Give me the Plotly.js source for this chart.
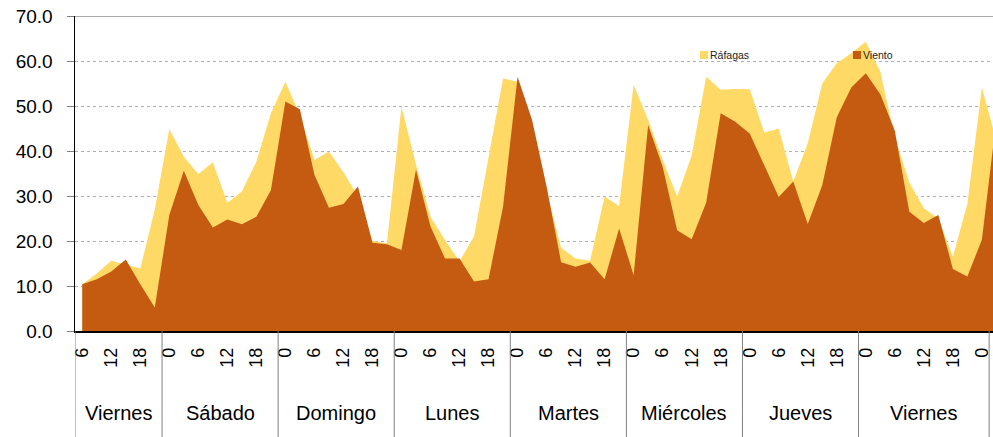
<!DOCTYPE html>
<html>
<head>
<meta charset="utf-8">
<script src="https://cdn.plot.ly/plotly-3.0.1.min.js"></script>
<style>
  html, body { margin: 0; padding: 0; background: #fff; }
  #chart { width: 993px; height: 437px; }
</style>
</head>
<body>
<div id="chart"></div>
<script>
// Categories: every 3 hours, starting Friday 06:00
var hourLabels = ["6","9","12","15","18","21",
  "0","3","6","9","12","15","18","21",
  "0","3","6","9","12","15","18","21",
  "0","3","6","9","12","15","18","21",
  "0","3","6","9","12","15","18","21",
  "0","3","6","9","12","15","18","21",
  "0","3","6","9","12","15","18","21",
  "0","3","6","9","12","15","18","21",
  "0","3"];
var dayNames = ["Viernes","Sábado","Domingo","Lunes","Martes","Miércoles","Jueves","Viernes"];
var dayCounts = [6, 8, 8, 8, 8, 8, 8, 9];
var shownHours = ["0","6","12","18"];

var rafagas = [10.4, 12.8, 15.6, 14.7, 13.9, 27.0, 44.9, 38.7, 34.9, 37.5,
  28.5, 31.0, 37.6, 48.4, 55.4, 48.0, 38.0, 39.9, 35.3, 30.0,
  20.0, 19.5, 49.9, 37.0, 25.4, 20.2, 15.5, 21.0, 39.0, 56.1,
  55.4, 46.0, 31.0, 18.5, 16.1, 15.6, 29.9, 27.8, 54.7, 46.9,
  38.0, 29.9, 39.0, 56.5, 53.6, 53.8, 53.7, 44.1, 45.0, 33.2,
  41.7, 55.0, 59.5, 61.7, 64.3, 57.6, 43.0, 33.0, 27.3, 25.0,
  16.5, 28.3, 54.1, 42.3];
var viento = [10.4, 11.5, 13.2, 15.9, 10.4, 5.2, 25.8, 35.6, 28.0, 23.0,
  24.8, 23.7, 25.4, 31.3, 51.0, 49.3, 34.7, 27.4, 28.2, 32.1,
  19.6, 19.3, 18.0, 35.9, 23.2, 16.1, 16.1, 11.0, 11.5, 27.6,
  56.5, 46.9, 32.1, 15.3, 14.3, 15.2, 11.5, 22.8, 12.4, 45.8,
  36.5, 22.4, 20.4, 28.5, 48.4, 46.5, 43.9, 37.0, 29.8, 33.2,
  23.8, 32.4, 47.5, 54.1, 57.3, 52.6, 44.5, 26.5, 24.0, 25.8,
  13.8, 12.1, 20.3, 47.0];

var FONT = "Liberation Sans, Arial, sans-serif";
var idx = hourLabels.map(function (_, i) { return i; });

var tickvals = [], ticktext = [];
var nCat = dayCounts.reduce(function (a, b) { return a + b; }, 0);
for (var i = 0; i < nCat; i++) {
  if (shownHours.indexOf(hourLabels[i]) >= 0) { tickvals.push(i); ticktext.push(hourLabels[i]); }
}

var plotTop = 16, plotBottom = 331, H = 437;
var plotH = plotBottom - plotTop;
var belowFrac = (H - plotBottom) / plotH;

var shapes = [], annotations = [];
var edge = -0.5;
shapes.push({type: "line", xref: "x", yref: "paper", x0: edge, x1: edge, y0: -belowFrac, y1: 0,
  line: {color: "#808080", width: 1}});
for (var d = 0; d < dayCounts.length; d++) {
  var start = edge;
  edge += dayCounts[d];
  shapes.push({type: "line", xref: "x", yref: "paper", x0: edge, x1: edge, y0: -belowFrac, y1: 0,
    line: {color: "#808080", width: 1}});
  annotations.push({xref: "x", yref: "paper", x: (start + edge) / 2, y: (plotBottom - 413) / plotH,
    text: dayNames[d], showarrow: false, xanchor: "center", yanchor: "middle",
    font: {family: FONT, size: 20, color: "#000"}});
}
// top boundary line at 70
shapes.push({type: "line", xref: "paper", yref: "y", x0: 0, x1: 1, y0: 70, y1: 70,
  line: {color: "#8c8c8c", width: 1.5}});

// legend (drawn as small squares + text)
var legendItems = [
  {name: "Ráfagas", color: "#FFD966", px: 700},
  {name: "Viento", color: "#C55A11", px: 853}
];
var plotLeft = 75, plotW = 993 - plotLeft;
legendItems.forEach(function (it) {
  var x0 = (it.px - plotLeft) / plotW, x1 = (it.px + 8 - plotLeft) / plotW;
  var yc = (plotBottom - 55) / plotH;
  shapes.push({type: "rect", xref: "paper", yref: "paper", x0: x0, x1: x1,
    y0: yc - 4 / plotH, y1: yc + 4 / plotH, fillcolor: it.color, line: {width: 0}});
  annotations.push({xref: "paper", yref: "paper", x: x1, y: yc, text: it.name, showarrow: false,
    xanchor: "left", yanchor: "middle", font: {family: FONT, size: 10.5, color: "#222"}});
});

var traces = [
  {x: idx, y: rafagas, name: "Ráfagas", type: "scatter", mode: "lines", fill: "tozeroy",
    fillcolor: "#FFD966", line: {width: 0, color: "#FFD966"}, hoverinfo: "skip"},
  {x: idx, y: viento, name: "Viento", type: "scatter", mode: "lines", fill: "tozeroy",
    fillcolor: "#C55A11", line: {width: 0, color: "#C55A11"}, hoverinfo: "skip"}
];

var layout = {
  width: 993, height: 437,
  margin: {l: plotLeft, r: 0, t: plotTop, b: H - plotBottom, pad: 0},
  paper_bgcolor: "#fff", plot_bgcolor: "#fff",
  showlegend: false,
  xaxis: {
    range: [-0.5, (993 - plotLeft) / 14.51 - 0.5],
    tickmode: "array", tickvals: tickvals, ticktext: ticktext,
    tickangle: -90, ticks: "", ticklabelstandoff: 8,
    tickfont: {family: FONT, size: 18, color: "#000"},
    showgrid: false, zeroline: false,
    showline: true, linecolor: "#000", linewidth: 1.5
  },
  yaxis: {
    range: [0, 70], dtick: 10, tickformat: ".1f",
    ticks: "outside", ticklen: 7, tickcolor: "#808080", ticklabelstandoff: 10,
    tickfont: {family: FONT, size: 19, color: "#000"},
    showgrid: true, gridcolor: "#b0b0b0", griddash: "dot", gridwidth: 1,
    zeroline: false, showline: true, linecolor: "#000", linewidth: 1.5
  },
  shapes: shapes,
  annotations: annotations
};

Plotly.newPlot("chart", traces, layout, {staticPlot: true, displayModeBar: false});
</script>
</body>
</html>
